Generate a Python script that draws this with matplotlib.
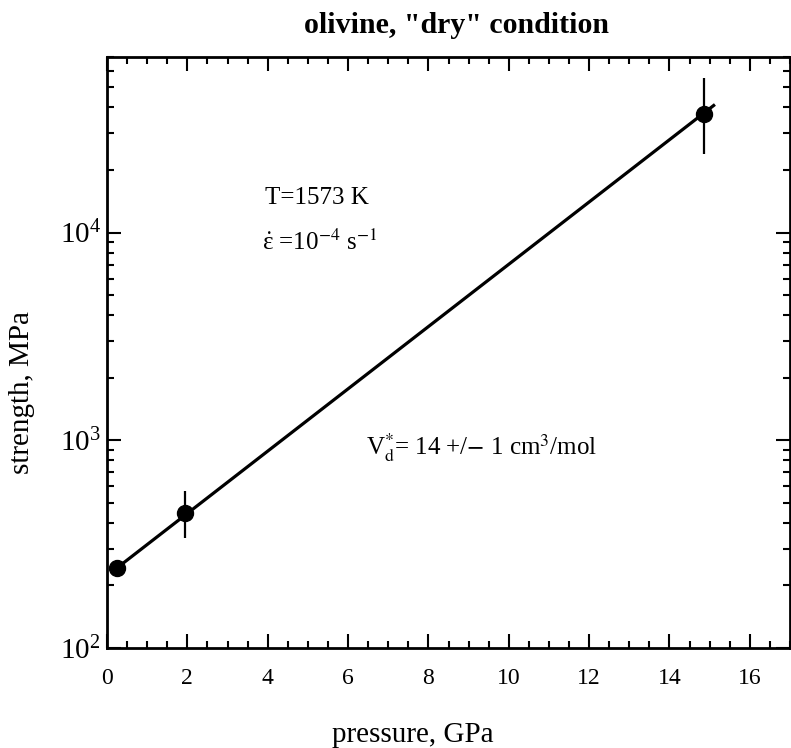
import matplotlib
matplotlib.use("Agg")
import matplotlib.pyplot as plt
import matplotlib.ticker as tck

plt.rcParams['font.family'] = ['Liberation Serif', 'DejaVu Serif']
plt.rcParams['mathtext.fontset'] = 'stix'

# measured points (pressure GPa, strength MPa) with error bars
pressure = [0.25, 1.95, 14.85]
strength = [243, 445, 37400]
err_low = [0, 105, 13600]
err_high = [0, 125, 17800]

# fitted exponential trend, endpoints
fit_p = [0.25, 15.1]
fit_s = [243, 40900]

W, H = 791, 748
fig = plt.figure(figsize=(W / 100, H / 100), dpi=100)
ax = fig.add_axes([107 / W, 1 - 648 / H, 683 / W, (648 - 57) / H])

ax.plot(fit_p, fit_s, color='black', lw=2.3)
ax.errorbar(pressure, strength, yerr=[err_low, err_high], fmt='o', color='black',
            ms=11.5, elinewidth=1.6, capsize=0)

ax.set_yscale('log')
ax.set_xlim(0, 17)
ax.set_ylim(100, 7e4)
ax.xaxis.set_major_locator(tck.MultipleLocator(2))
ax.xaxis.set_minor_locator(tck.MultipleLocator(0.5))
ax.yaxis.set_major_locator(tck.LogLocator(base=10, numticks=10))
ax.yaxis.set_minor_locator(tck.LogLocator(base=10, subs=range(2, 10), numticks=20))
ax.yaxis.set_minor_formatter(tck.NullFormatter())

ax.tick_params(which='both', direction='in', top=True, right=True, width=1.5, colors='black')
ax.tick_params(which='major', length=10)
ax.tick_params(which='minor', length=5)
ax.tick_params(axis='x', which='major', labelsize=17, pad=14.5)
ax.tick_params(axis='y', which='major', labelsize=21, pad=4.5)
for s in ax.spines.values():
    s.set_linewidth(2)

fig.text(413 / W, 1 - 742 / H, 'pressure, GPa', fontsize=21, ha='center', va='baseline')
fig.text(22 / W, 1 - 392 / H, 'strength, MPa', fontsize=21, rotation=90,
         ha='center', va='center')
fig.text(457 / W, 1 - 33 / H, 'olivine, "dry" condition', fontsize=21.5,
         fontweight='bold', ha='center', va='baseline')

ax.text(3.93, 13650, 'T=1573 K', fontsize=18, va='baseline')
ax.text(3.86, 8280, r'$\dot{\mathregular{ε}}$ =10$^{-4}$ s$^{-1}$', fontsize=18, va='baseline')
ax.text(6.44, 851, r'V$_{\rm d}^{*}$= 14 +/$-$ 1 cm$^3$/mol', fontsize=18, va='baseline')

fig.savefig('out.png', dpi=100)
